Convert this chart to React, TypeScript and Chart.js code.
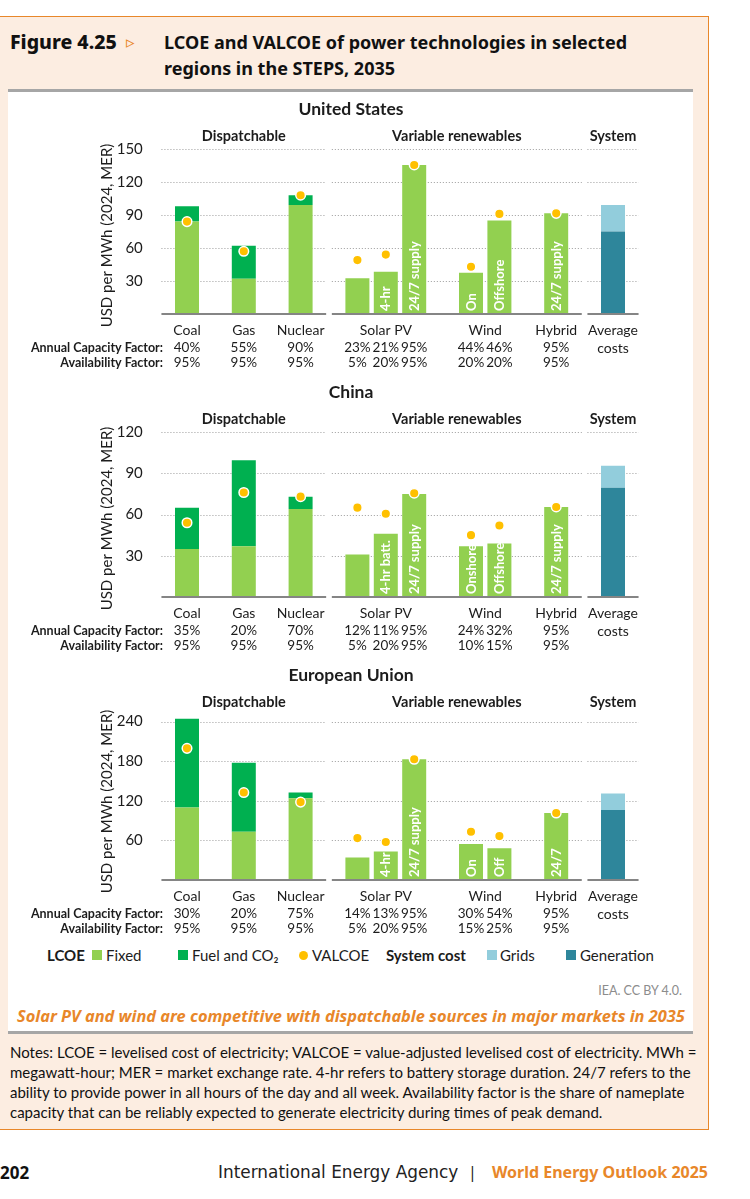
import React, { useEffect, useRef } from "react";
import { Chart, registerables } from "chart.js";

Chart.register(...registerables);

// ---------------- DATA ----------------
const slots = [
  "Coal", "", "Gas", "", "Nuclear", "",
  "Solar PV", "Solar PV + 4-hr battery", "Solar PV 24/7 supply", "",
  "Wind onshore", "Wind offshore", "", "Hybrid 24/7 supply", "", "Average costs",
];
const technology = [
  "Coal", "", "Gas", "", "Nuclear", "",
  "Solar PV", "Solar PV", "Solar PV", "",
  "Wind", "Wind", "", "Hybrid", "", "Average\ncosts",
];
const sections = [
  "Dispatchable", "Dispatchable", "Dispatchable", "Dispatchable", "Dispatchable", "",
  "Variable renewables", "Variable renewables", "Variable renewables", "Variable renewables",
  "Variable renewables", "Variable renewables", "Variable renewables", "Variable renewables", "",
  "System",
];
const rowLabels = ["Annual Capacity Factor:", "Availability Factor:"];
const seriesNames = ["Fixed", "Fuel and CO\u2082", "VALCOE", "Grids", "Generation"];

// United States
const usFixed = [84, null, 32, null, 99, null, 32.5, 38.5, 135.5, null, 37.5, 85, null, 91.5, null, null];
const usFuel = [14, null, 30, null, 9, null, null, null, null, null, null, null, null, null, null, null];
const usGeneration = [null, null, null, null, null, null, null, null, null, null, null, null, null, null, null, 75];
const usGrids = [null, null, null, null, null, null, null, null, null, null, null, null, null, null, null, 24];
const usValcoe = [84, null, 57, null, 108, null, 49, 54, 135.5, null, 43, 91, null, 91.5, null, null];
const usCapacity = ["40%", "", "55%", "", "90%", "", "23%", "21%", "95%", "", "44%", "46%", "", "95%", "", ""];
const usAvailability = ["95%", "", "95%", "", "95%", "", "5%", "20%", "95%", "", "20%", "20%", "", "95%", "", ""];
const usBarText = ["", "", "", "", "", "", "", "4-hr", "24/7 supply", "", "On", "Offshore", "", "24/7 supply", "", ""];
const usTicks = [30, 60, 90, 120, 150];
const usMax = 150;

// China
const cnFixed = [35, null, 37, null, 64, null, 31, 46, 75, null, 37, 39, null, 65.5, null, null];
const cnFuel = [30, null, 62.5, null, 9, null, null, null, null, null, null, null, null, null, null, null];
const cnGeneration = [null, null, null, null, null, null, null, null, null, null, null, null, null, null, null, 79.5];
const cnGrids = [null, null, null, null, null, null, null, null, null, null, null, null, null, null, null, 16];
const cnValcoe = [54, null, 76, null, 73, null, 65, 60.5, 75.5, null, 45, 52, null, 65.5, null, null];
const cnCapacity = ["35%", "", "20%", "", "70%", "", "12%", "11%", "95%", "", "24%", "32%", "", "95%", "", ""];
const cnAvailability = ["95%", "", "95%", "", "95%", "", "5%", "20%", "95%", "", "10%", "15%", "", "95%", "", ""];
const cnBarText = ["", "", "", "", "", "", "", "4-hr batt.", "24/7 supply", "", "Onshore", "Offshore", "", "24/7 supply", "", ""];
const cnTicks = [30, 60, 90, 120];
const cnMax = 120;

// European Union
const euFixed = [110, null, 73, null, 124, null, 34, 43, 183, null, 54.5, 48, null, 101.5, null, null];
const euFuel = [134.5, null, 104.5, null, 8.5, null, null, null, null, null, null, null, null, null, null, null];
const euGeneration = [null, null, null, null, null, null, null, null, null, null, null, null, null, null, null, 106];
const euGrids = [null, null, null, null, null, null, null, null, null, null, null, null, null, null, null, 25];
const euValcoe = [199.5, null, 132.5, null, 118, null, 63.5, 57.5, 183, null, 73, 66.5, null, 101.5, null, null];
const euCapacity = ["30%", "", "20%", "", "75%", "", "14%", "13%", "95%", "", "30%", "54%", "", "95%", "", ""];
const euAvailability = ["95%", "", "95%", "", "95%", "", "5%", "20%", "95%", "", "15%", "25%", "", "95%", "", ""];
const euBarText = ["", "", "", "", "", "", "", "4-hr", "24/7 supply", "", "On", "Off", "", "24/7", "", ""];
const euTicks = [60, 120, 180, 240];
const euMax = 250;

const NOTES = [
  "Notes: LCOE = levelised cost of electricity; VALCOE = value-adjusted levelised cost of electricity. MWh =",
  "megawatt-hour; MER = market exchange rate. 4-hr refers to battery storage duration. 24/7 refers to the",
  "ability to provide power in all hours of the day and all week. Availability factor is the share of nameplate",
  "capacity that can be reliably expected to generate electricity during times of peak demand.",
];

// ---------------- STYLE ----------------
const C_FIXED = "#92D050";
const C_FUEL = "#00B050";
const C_VALCOE = "#FFC000";
const C_GRIDS = "#92CDDC";
const C_GEN = "#2E869B";
const ORANGE = "#E8872A";
const PEACH = "#FCEDE1";
const F = 'Lato, "Open Sans", sans-serif';
const HF = '"Noto Sans", Lato, sans-serif';
const TXT = "#1c1c1c";

type Region = {
  name: string;
  fixed: (number | null)[];
  fuel: (number | null)[];
  generation: (number | null)[];
  grids: (number | null)[];
  valcoe: (number | null)[];
  capacity: string[];
  availability: string[];
  barText: string[];
  ticks: number[];
  max: number;
  top: number;
};

const regions: Region[] = [
  { name: "United States", fixed: usFixed, fuel: usFuel, generation: usGeneration, grids: usGrids, valcoe: usValcoe, capacity: usCapacity, availability: usAvailability, barText: usBarText, ticks: usTicks, max: usMax, top: 92 },
  { name: "China", fixed: cnFixed, fuel: cnFuel, generation: cnGeneration, grids: cnGrids, valcoe: cnValcoe, capacity: cnCapacity, availability: cnAvailability, barText: cnBarText, ticks: cnTicks, max: cnMax, top: 375 },
  { name: "European Union", fixed: euFixed, fuel: euFuel, generation: euGeneration, grids: euGrids, valcoe: euValcoe, capacity: euCapacity, availability: euAvailability, barText: euBarText, ticks: euTicks, max: euMax, top: 658 },
];

const CW = 700;
const CH = 283;

function runs(arr: string[]) {
  const out: { name: string; from: number; to: number }[] = [];
  arr.forEach((n, i) => {
    if (!n) return;
    const last = out[out.length - 1];
    if (last && last.name === n && arr.slice(last.to + 1, i).every((v) => v === "")) last.to = i;
    else out.push({ name: n, from: i, to: i });
  });
  return out;
}

function makeOverlay(r: Region) {
  const px = (chart: any, u: number) => {
    const x = chart.scales.x;
    const p0 = x.getPixelForValue(0);
    const p1 = x.getPixelForValue(1);
    return p0 + u * (p1 - p0);
  };
  const segs = runs(sections);
  const PAD = 0.9;
  return {
    id: "overlay",
    beforeDatasetsDraw(chart: any) {
      const { ctx } = chart;
      const y = chart.scales.y;
      ctx.save();
      ctx.strokeStyle = "#9c9c9c";
      ctx.lineWidth = 1;
      ctx.setLineDash([1, 2]);
      for (const t of r.ticks) {
        const py = Math.round(y.getPixelForValue(t)) + 0.5;
        for (const s of segs) {
          ctx.beginPath();
          ctx.moveTo(px(chart, s.from - PAD), py);
          ctx.lineTo(px(chart, s.to + PAD), py);
          ctx.stroke();
        }
      }
      ctx.restore();
    },
    afterDatasetsDraw(chart: any) {
      const { ctx } = chart;
      const y = chart.scales.y;
      const base = y.getPixelForValue(0);
      ctx.save();
      ctx.fillStyle = "#ffffff";
      ctx.font = `bold 13px ${F}`;
      ctx.textAlign = "left";
      ctx.textBaseline = "middle";
      r.barText.forEach((t, i) => {
        if (!t) return;
        ctx.save();
        ctx.translate(px(chart, i) + 0.5, base - 3);
        ctx.rotate(-Math.PI / 2);
        ctx.fillText(t, 0, 0);
        ctx.restore();
      });
      ctx.strokeStyle = "#858585";
      ctx.lineWidth = 2;
      for (const s of segs) {
        ctx.beginPath();
        ctx.moveTo(px(chart, s.from - PAD), base);
        ctx.lineTo(px(chart, s.to + PAD), base);
        ctx.stroke();
      }
      ctx.restore();
    },
    afterDraw(chart: any) {
      const { ctx } = chart;
      const y = chart.scales.y;
      const top = y.top;
      const base = y.getPixelForValue(0);
      ctx.save();
      ctx.fillStyle = TXT;
      ctx.textBaseline = "middle";
      ctx.textAlign = "center";
      ctx.font = `bold 17.5px ${F}`;
      ctx.fillText(r.name, 351, top - 40);
      ctx.font = `bold 14.5px ${F}`;
      for (const s of segs) {
        const cx = (px(chart, s.from - PAD) + px(chart, s.to + PAD)) / 2;
        ctx.fillText(s.name, cx, top - 13);
      }
      ctx.font = `14px ${F}`;
      for (const t of runs(technology)) {
        const cx = (px(chart, t.from) + px(chart, t.to)) / 2;
        const lines = t.name.split("\n");
        ctx.fillText(lines[0], cx, base + 16);
        if (lines[1]) ctx.fillText(lines[1], cx, base + 34);
      }
      ctx.font = `13.5px ${F}`;
      r.capacity.forEach((v, i) => { if (v) ctx.fillText(v, px(chart, i), base + 34); });
      r.availability.forEach((v, i) => { if (v) ctx.fillText(v, px(chart, i), base + 49); });
      ctx.textAlign = "right";
      ctx.font = `bold 12.5px ${F}`;
      ctx.fillText(rowLabels[0], 163, base + 34);
      ctx.fillText(rowLabels[1], 163, base + 49);
      ctx.save();
      ctx.translate(107, (top + base) / 2 + 4);
      ctx.rotate(-Math.PI / 2);
      ctx.textAlign = "center";
      ctx.font = `15px ${F}`;
      ctx.fillText("USD per MWh (2024, MER)", 0, 0);
      ctx.restore();
      ctx.restore();
    },
  };
}

function RegionChart({ r }: { r: Region }) {
  const ref = useRef<HTMLCanvasElement>(null);
  useEffect(() => {
    const chart = new Chart(ref.current as HTMLCanvasElement, {
      type: "bar",
      data: {
        labels: slots,
        datasets: [
          {
            type: "line",
            label: seriesNames[2],
            data: r.valcoe,
            showLine: false,
            pointRadius: 4.8,
            pointHoverRadius: 4.8,
            pointBackgroundColor: C_VALCOE,
            pointBorderColor: "#ffffff",
            pointBorderWidth: 1.5,
            stack: "valcoe",
            order: 0,
          } as any,
          { label: seriesNames[0], data: r.fixed, backgroundColor: C_FIXED, stack: "lcoe", order: 1 },
          { label: seriesNames[1], data: r.fuel, backgroundColor: C_FUEL, stack: "lcoe", order: 1 },
          { label: seriesNames[4], data: r.generation, backgroundColor: C_GEN, stack: "lcoe", order: 1 },
          { label: seriesNames[3], data: r.grids, backgroundColor: C_GRIDS, stack: "lcoe", order: 1 },
        ],
      },
      options: {
        responsive: false,
        animation: false,
        events: [],
        layout: { padding: { left: 102.8, right: 72.8, top: 57, bottom: 61 } },
        datasets: { bar: { categoryPercentage: 1, barPercentage: 0.845, borderWidth: 0 } },
        plugins: { legend: { display: false }, tooltip: { enabled: false }, title: { display: false } },
        scales: {
          x: { display: false, stacked: true, offset: true },
          y: {
            stacked: true,
            min: 0,
            max: r.max,
            grid: { display: false, drawTicks: false },
            border: { display: false },
            ticks: { padding: 30, font: { family: F, size: 15 }, color: TXT },
            afterBuildTicks: (s: any) => { s.ticks = r.ticks.map((v) => ({ value: v })); },
            afterFit: (s: any) => { s.width = 70; },
          },
        },
      } as any,
      plugins: [makeOverlay(r)],
    });
    return () => chart.destroy();
  }, [r]);
  return (
    <canvas
      ref={ref}
      width={CW}
      height={CH}
      style={{ position: "absolute", left: 0, top: r.top, width: CW, height: CH }}
    />
  );
}

function Txt(props: {
  x: number; cy: number; size: number; children: React.ReactNode;
  weight?: number; color?: string; family?: string; italic?: boolean; align?: "left" | "right"; ls?: number;
}) {
  const h = Math.round(props.size * 1.35);
  const style: React.CSSProperties = {
    position: "absolute",
    top: props.cy - h / 2,
    lineHeight: `${h}px`,
    fontSize: props.size,
    fontWeight: props.weight || 400,
    color: props.color || TXT,
    fontFamily: props.family || F,
    fontStyle: props.italic ? "italic" : "normal",
    whiteSpace: "nowrap",
    letterSpacing: props.ls ? `${props.ls}px` : undefined,
  };
  if (props.align === "right") { style.right = 750 - props.x; style.textAlign = "right"; }
  else style.left = props.x;
  return <div style={style}>{props.children}</div>;
}

function Sq({ x, cy, color, round }: { x: number; cy: number; color: string; round?: boolean }) {
  const s = round ? 9 : 10;
  return (
    <div style={{ position: "absolute", left: x, top: cy - s / 2, width: s, height: s, background: color, borderRadius: round ? "50%" : 0 }} />
  );
}

export default function App() {
  const LY = 955;
  return (
    <div style={{ position: "absolute", left: 0, top: 0, width: 750, height: 1199, background: "#fff", overflow: "hidden", fontFamily: F }}>
      <div style={{ position: "absolute", left: 0, top: 16, width: 708, height: 1112, background: PEACH, borderTop: `1.5px solid ${ORANGE}`, borderRight: `1.5px solid ${ORANGE}`, borderBottom: `1.5px solid ${ORANGE}` }} />
      <Txt x={10} cy={42} size={19.5} weight={800} family={HF} color="#111">Figure 4.25</Txt>
      <Txt x={126} cy={42} size={17} color={ORANGE} family='"DejaVu Sans", sans-serif'>{"\u25B9"}</Txt>
      <Txt x={164} cy={42} size={18} weight={700} family={HF} color="#111">LCOE and VALCOE of power technologies in selected</Txt>
      <Txt x={164} cy={68} size={18} weight={700} family={HF} color="#111">regions in the STEPS, 2035</Txt>
      <div style={{ position: "absolute", left: 8, top: 89, width: 685, height: 3, background: "#A6A6A6" }} />
      <div style={{ position: "absolute", left: 8, top: 92, width: 685, height: 939, background: "#fff" }} />
      <div style={{ position: "absolute", left: 8, top: 1031, width: 685, height: 3, background: "#A6A6A6" }} />

      {regions.map((r) => <RegionChart key={r.name} r={r} />)}

      <Txt x={47} cy={LY} size={15} weight={700}>LCOE</Txt>
      <Sq x={92} cy={LY} color={C_FIXED} />
      <Txt x={106} cy={LY} size={15}>{seriesNames[0]}</Txt>
      <Sq x={178} cy={LY} color={C_FUEL} />
      <Txt x={192} cy={LY} size={15}>{seriesNames[1]}</Txt>
      <Sq x={298.5} cy={LY} color={C_VALCOE} round />
      <Txt x={312} cy={LY} size={15}>{seriesNames[2]}</Txt>
      <Txt x={386} cy={LY} size={15} weight={700}>System cost</Txt>
      <Sq x={487} cy={LY} color={C_GRIDS} />
      <Txt x={500} cy={LY} size={15}>{seriesNames[3]}</Txt>
      <Sq x={566} cy={LY} color={C_GEN} />
      <Txt x={580} cy={LY} size={15}>{seriesNames[4]}</Txt>

      <Txt x={682} cy={990} size={12.5} color="#8c8c8c" align="right">IEA. CC BY 4.0.</Txt>
      <Txt x={17} cy={1016} size={16.4} weight={700} italic color={ORANGE} family={HF}>
        Solar PV and wind are competitive with dispatchable sources in major markets in 2035
      </Txt>

      {NOTES.map((l, i) => (
        <Txt key={i} x={10} cy={1052 + i * 20} size={15} color="#111">{l}</Txt>
      ))}

      <Txt x={0} cy={1172} size={17} weight={700} family={HF} color="#111">202</Txt>
      <Txt x={218} cy={1172} size={16.9} family='"DejaVu Sans", sans-serif' color="#222">International Energy Agency</Txt>
      <Txt x={468} cy={1172} size={16} family={HF} color="#222">|</Txt>
      <Txt x={708} cy={1172} size={16} weight={700} family={HF} color={ORANGE} align="right">World Energy Outlook 2025</Txt>
    </div>
  );
}
